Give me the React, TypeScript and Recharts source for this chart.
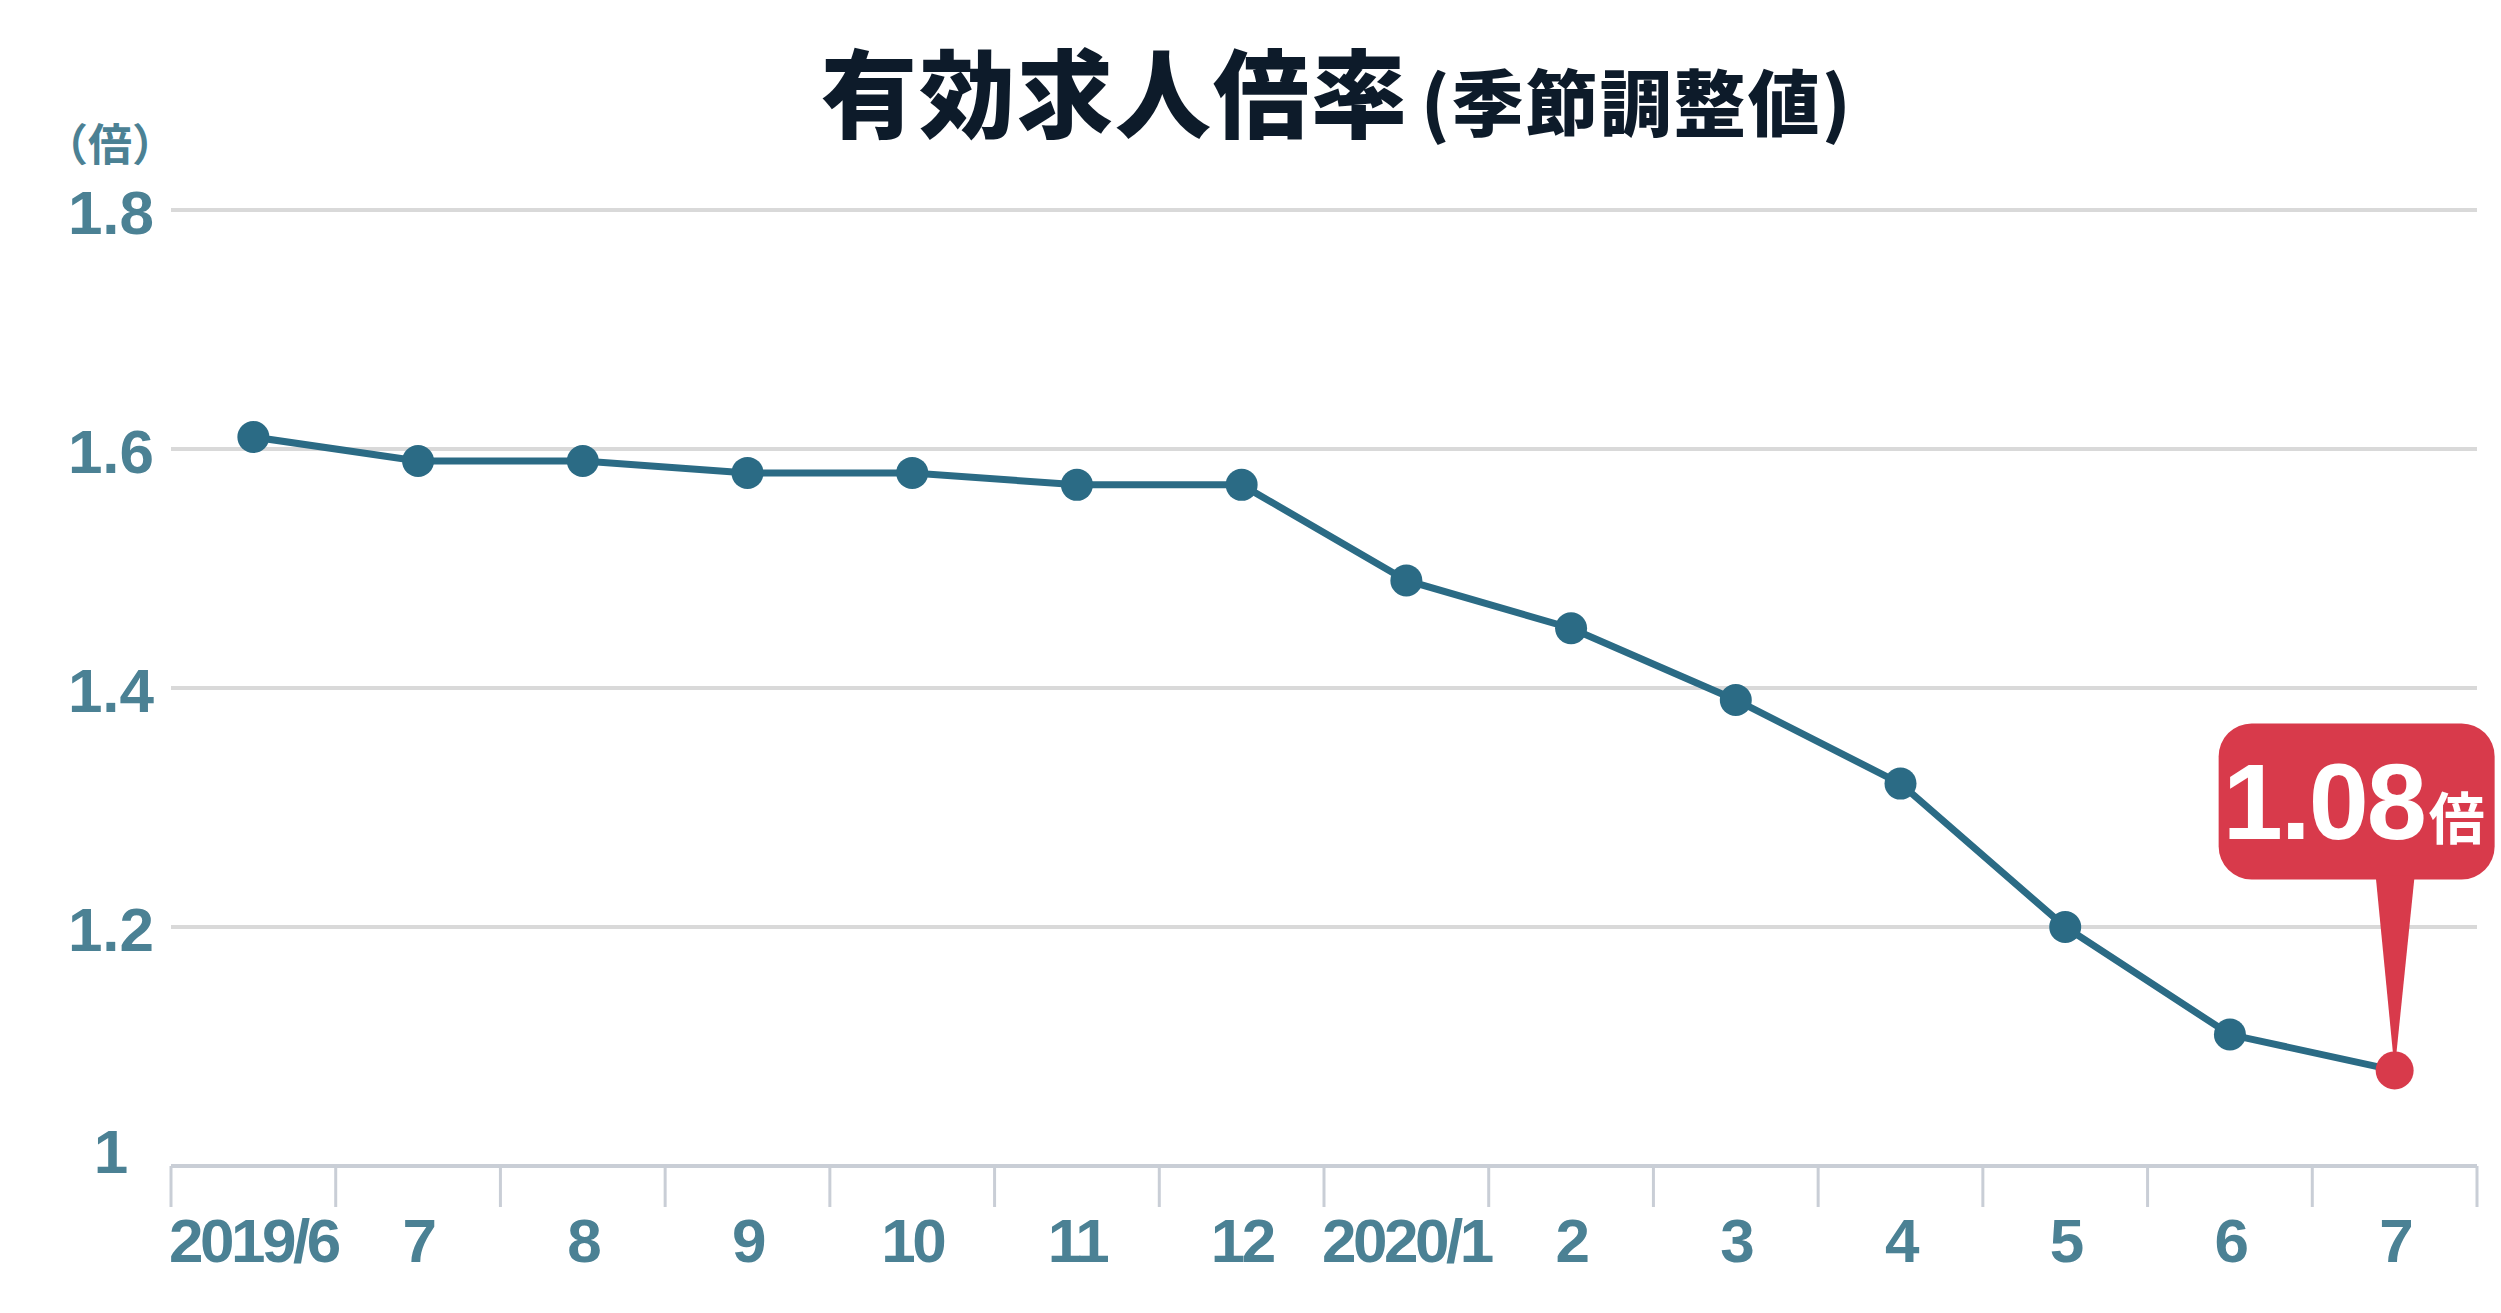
import React from 'react';
import { LineChart, Line, XAxis, YAxis, CartesianGrid } from 'recharts';

const months = ['2019/6', '7', '8', '9', '10', '11', '12', '2020/1', '2', '3', '4', '5', '6', '7'];
const ratios = [1.61, 1.59, 1.59, 1.58, 1.58, 1.57, 1.57, 1.49, 1.45, 1.39, 1.32, 1.2, 1.11, 1.08];
const yTicks = [1, 1.2, 1.4, 1.6, 1.8];
const titleMain = '有効求人倍率';
const titleSub = '(季節調整値)';
const unitLabel = '（倍）';
const calloutUnit = '倍';

const data = months.map((m, i) => ({ pos: i, month: m, value: ratios[i] }));
const xTicks = months.map((_, i) => i);

const LINE = '#2b6b85';
const RED = '#d83a4b';
const LABEL = '#4b8194';
const AXIS = '#c9ced6';
const NUM_FONT = '"Liberation Sans", Arial, Helvetica, sans-serif';
const CJK_FONT = '"Noto Sans CJK JP", "Noto Sans CJK SC", sans-serif';

const XTick = (props: any) => {
  const { x, y, payload, index, width } = props;
  const w = typeof width === 'number' ? width : Number(width);
  const half = isFinite(w) && w > 0 ? w / months.length / 2 : 0;
  const i = typeof payload.value === 'number' ? payload.value : index;
  const isLast = i === months.length - 1;
  return (
    <g>
      <line x1={x - half} x2={x - half} y1={y} y2={y + 41} stroke={AXIS} strokeWidth={3} />
      {isLast && <line x1={x + half} x2={x + half} y1={y} y2={y + 41} stroke={AXIS} strokeWidth={3} />}
      <text
        x={x}
        y={y + 96}
        textAnchor="middle"
        fill={LABEL}
        fontFamily={NUM_FONT}
        fontWeight={700}
        fontSize={62}
        letterSpacing={-3.5}
      >
        {months[i]}
      </text>
    </g>
  );
};

const YTick = (props: any) => {
  const { x, y, payload, index } = props;
  return (
    <text
      x={x - 60}
      y={y + (index === 0 ? 7 : 24)}
      textAnchor="middle"
      fill={LABEL}
      fontFamily={NUM_FONT}
      fontWeight={700}
      fontSize={62}
    >
      {String(payload.value)}
    </text>
  );
};

const renderDot = (props: any) => {
  const { cx, cy, index } = props;
  if (index === ratios.length - 1) {
    return (
      <g key={`dot-${index}`}>
        <rect x={cx - 176} y={cy - 347} width={276} height={156} rx={33} ry={33} fill={RED} />
        <polygon points={`${cx - 19},${cy - 195} ${cx + 20},${cy - 195} ${cx},${cy}`} fill={RED} />
        <circle cx={cx} cy={cy} r={19} fill={RED} />
        <text x={cx - 172} y={cy - 231} fill="#ffffff" fontWeight={700}>
          <tspan fontFamily={NUM_FONT} fontSize={108} letterSpacing={-2}>
            {ratios[index].toFixed(2)}
          </tspan>
          <tspan fontFamily={CJK_FONT} fontSize={56} dx={4}>
            {calloutUnit}
          </tspan>
        </text>
      </g>
    );
  }
  return <circle key={`dot-${index}`} cx={cx} cy={cy} r={16} fill={LINE} />;
};

export default function App() {
  return (
    <div style={{ position: 'absolute', left: 0, top: 0, width: 2501, height: 1313, background: '#ffffff' }}>
      <LineChart
        width={2501}
        height={1313}
        data={data}
        margin={{ top: 210, right: 24, bottom: 47, left: 0 }}
      >
        <CartesianGrid vertical={false} stroke="#d9d9d9" strokeWidth={4} />
        <XAxis
          dataKey="pos"
          type="number"
          domain={[-0.5, months.length - 0.5]}
          ticks={xTicks}
          interval={0}
          height={100}
          tickLine={false}
          tickSize={0}
          tickMargin={0}
          axisLine={{ stroke: AXIS, strokeWidth: 4 }}
          tick={<XTick />}
        />
        <YAxis
          type="number"
          domain={[1, 1.8]}
          ticks={yTicks}
          width={171}
          axisLine={false}
          tickLine={false}
          tickSize={0}
          tickMargin={0}
          tick={<YTick />}
        />
        <Line
          type="linear"
          dataKey="value"
          stroke={LINE}
          strokeWidth={7}
          dot={renderDot}
          activeDot={false}
          isAnimationActive={false}
        />
      </LineChart>
      <svg
        width={2501}
        height={200}
        style={{ position: 'absolute', left: 0, top: 0, pointerEvents: 'none' }}
      >
        <text x={821} y={130} fill="#0d1b2a" fontFamily={CJK_FONT} fontWeight={900}>
          <tspan fontSize={96} letterSpacing={2}>{titleMain}</tspan>
          <tspan fontSize={72} letterSpacing={2} dx={12}>{titleSub}</tspan>
        </text>
        <text
          x={110}
          y={161}
          textAnchor="middle"
          fill={LABEL}
          fontFamily={CJK_FONT}
          fontWeight={700}
          fontSize={44}
        >
          {unitLabel}
        </text>
      </svg>
    </div>
  );
}
